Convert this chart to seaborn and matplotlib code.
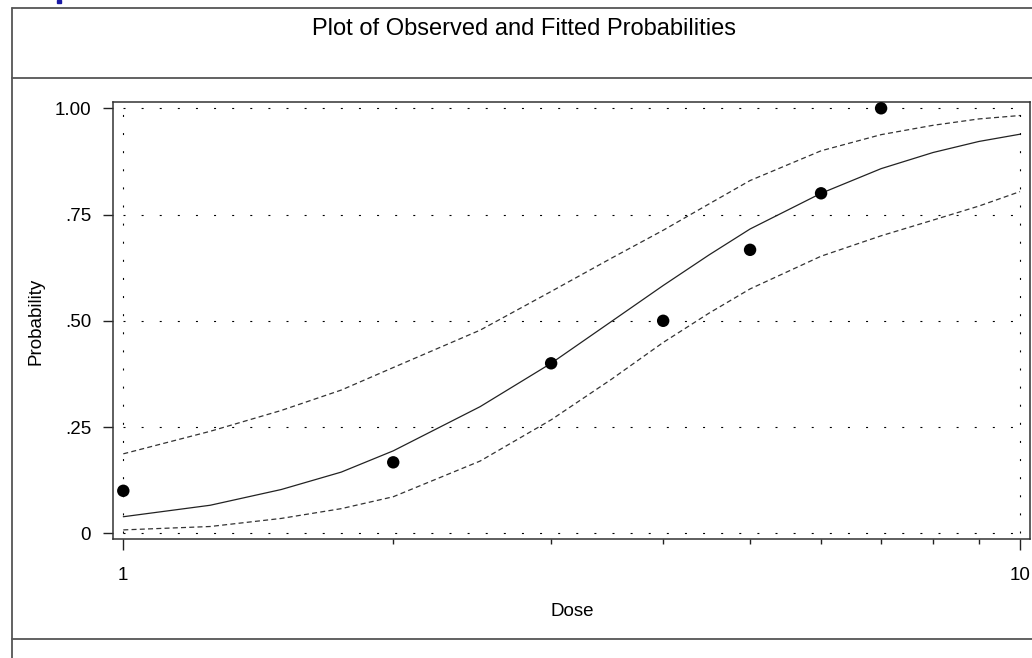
import matplotlib
matplotlib.use("Agg")
import matplotlib.pyplot as plt
from matplotlib.lines import Line2D
from matplotlib.patches import Rectangle
from matplotlib.ticker import FixedLocator, NullFormatter
import seaborn as sns
import pandas as pd

# Observed proportions responding at each dose
dose_obs = [1, 2, 3, 4, 5, 6, 7]
prob_obs = [0.10, 0.167, 0.40, 0.50, 0.667, 0.80, 1.00]

# Fitted probability curve with lower / upper confidence limits
dose_fit = [1, 1.25, 1.5, 1.75, 2, 2.5, 3, 3.5, 4, 4.5, 5, 6, 7, 8, 9, 10]
prob_fit = [0.039, 0.066, 0.103, 0.144, 0.194, 0.298, 0.400, 0.498, 0.583,
            0.655, 0.716, 0.800, 0.858, 0.896, 0.922, 0.939]
prob_upper = [0.187, 0.240, 0.289, 0.337, 0.390, 0.478, 0.569, 0.647, 0.713,
              0.775, 0.830, 0.900, 0.938, 0.960, 0.975, 0.983]
prob_lower = [0.008, 0.016, 0.035, 0.058, 0.086, 0.170, 0.267, 0.362, 0.449,
              0.518, 0.575, 0.652, 0.700, 0.737, 0.770, 0.804]

# Axis ticks
y_ticks = [0, 0.25, 0.50, 0.75, 1.00]
y_tick_labels = ["0", ".25", ".50", ".75", "1.00"]
x_major = [1, 10]
x_major_labels = ["1", "10"]
x_minor = [2, 3, 4, 5, 6, 7, 8, 9]

title = "Plot of Observed and Fitted Probabilities"

sns.set_theme(style="white")
plt.rcParams["font.family"] = ["Liberation Sans", "DejaVu Sans"]

W, H = 1032, 658
fig = plt.figure(figsize=(W / 100, H / 100), dpi=100)
fig.patch.set_facecolor("white")

def fx(px):
    return px / W

def fy(py):
    return 1 - py / H

ax_left, ax_right, ax_top, ax_bottom = 113, 1030, 102.3, 539
ax = fig.add_axes([fx(ax_left), fy(ax_bottom),
                   (ax_right - ax_left) / W, (ax_bottom - ax_top) / H])
ax.set_facecolor("white")

fit_df = pd.DataFrame({"dose": dose_fit, "fit": prob_fit,
                       "upper": prob_upper, "lower": prob_lower})
obs_df = pd.DataFrame({"dose": dose_obs, "prob": prob_obs})

# Reference grid (dotted) spanning the data range
grid_kw = dict(color="black", linewidth=0.8, linestyle=(0, (1.8, 14.5)), zorder=1)
ax.hlines(y_ticks, x_major[0], x_major[-1], **grid_kw)
ax.vlines(x_major, y_ticks[0], y_ticks[-1], **grid_kw)

sns.lineplot(data=fit_df, x="dose", y="upper", ax=ax, color="#333333",
             linewidth=0.9, linestyle=(0, (4, 2.6)), sort=False, zorder=2)
sns.lineplot(data=fit_df, x="dose", y="lower", ax=ax, color="#333333",
             linewidth=0.9, linestyle=(0, (4, 2.6)), sort=False, zorder=2)
sns.lineplot(data=fit_df, x="dose", y="fit", ax=ax, color="#222222",
             linewidth=0.9, sort=False, zorder=3)
sns.scatterplot(data=obs_df, x="dose", y="prob", ax=ax, color="black",
                s=80, edgecolor="none", zorder=4, clip_on=False)

ax.set_xscale("log")
ax.set_xlim(0.9739, 10.26)
ax.set_ylim(-0.0134, 1.0141)

ax.xaxis.set_major_locator(FixedLocator(x_major))
ax.set_xticklabels(x_major_labels)
ax.xaxis.set_minor_locator(FixedLocator(x_minor))
ax.xaxis.set_minor_formatter(NullFormatter())
ax.set_yticks(y_ticks)
ax.set_yticklabels(y_tick_labels)

ax.tick_params(axis="x", which="major", direction="out", length=8, width=1.0,
               pad=12, labelsize=13.5, colors="#222222", labelcolor="black",
               bottom=True)
ax.tick_params(axis="x", which="minor", direction="out", length=3.6, width=1.0,
               colors="#222222", bottom=True)
ax.tick_params(axis="y", which="major", direction="out", length=7.2, width=1.0,
               pad=8.5, labelsize=13.5, colors="#222222", labelcolor="black",
               left=True)

for sp in ax.spines.values():
    sp.set_visible(True)
    sp.set_color("#333333")
    sp.set_linewidth(1.1)

ax.set_xlabel("Dose", fontsize=13.5, color="black")
ax.set_ylabel("Probability", fontsize=13.5, color="black")
ax.xaxis.set_label_coords((572 - ax_left) / (ax_right - ax_left),
                          (ax_bottom - 603) / (ax_bottom - ax_top))
ax.yaxis.set_label_coords((45 - ax_left) / (ax_right - ax_left),
                          (ax_bottom - 321) / (ax_bottom - ax_top))

# Title panel and page frame
fig.text(fx(524.5), fy(35), title, ha="center", va="baseline",
         fontsize=17, color="black")
frame_kw = dict(color="#555555", linewidth=1.3, transform=fig.transFigure)
fig.add_artist(Line2D([fx(12), fx(12)], [fy(8), 0], **frame_kw))
fig.add_artist(Line2D([fx(12), 1], [fy(8), fy(8)], **frame_kw))
fig.add_artist(Line2D([fx(12), 1], [fy(78), fy(78)], **frame_kw))
fig.add_artist(Line2D([fx(12), 1], [fy(639), fy(639)], **frame_kw))
fig.add_artist(Rectangle((fx(57), fy(3)), 4 / W, 3 / H, color="#1a1aa6",
                         transform=fig.transFigure))

fig.savefig("out.png", dpi=100, facecolor="white")
